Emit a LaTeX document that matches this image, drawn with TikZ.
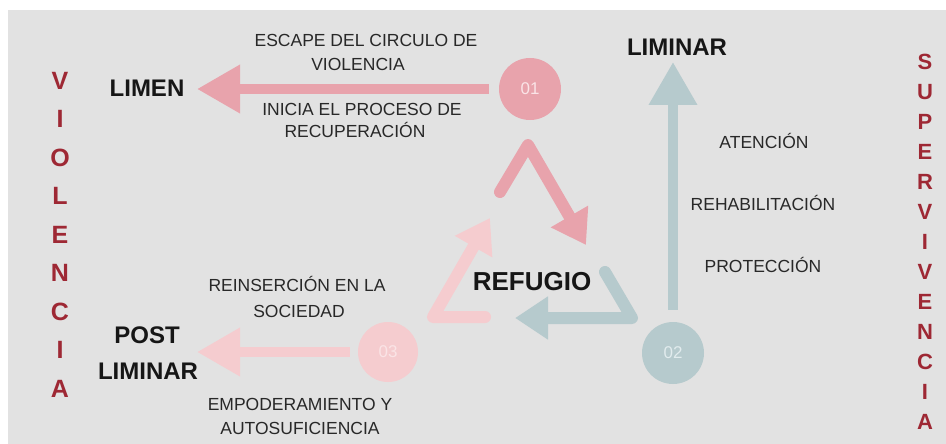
\documentclass[tikz,border=0pt]{standalone}
\usepackage{fontspec}
\setmainfont{Liberation Sans}
\usetikzlibrary{arrows.meta}
\definecolor{bgc}{RGB}{226,226,226}
\definecolor{pinkA}{RGB}{232,163,172}
\definecolor{pinkL}{RGB}{245,204,207}
\definecolor{tealA}{RGB}{182,202,205}
\definecolor{txtc}{RGB}{40,40,40}
\definecolor{boldc}{RGB}{22,22,22}
\definecolor{redc}{RGB}{158,40,52}
\begin{document}
\begin{tikzpicture}[x=1pt,y=-1pt,
  lbl/.style={font=\fontsize{17.5}{20}\selectfont, text=txtc, anchor=base, inner sep=0pt},
  big/.style={font=\bfseries\fontsize{24}{28}\selectfont, text=boldc, anchor=base, inner sep=0pt},
  vletter/.style={font=\bfseries\fontsize{25}{28}\selectfont, text=redc, anchor=base, inner sep=0pt},
  sletter/.style={font=\bfseries\fontsize{22}{26}\selectfont, text=redc, anchor=base, inner sep=0pt},
  dot/.style={circle, minimum size=62pt, inner sep=0pt, font=\fontsize{17}{19}\selectfont},
  bigarrow/.style={line width=10pt, -{Triangle[length=43pt,width=46pt]}},
  chev/.style={line width=12pt, line join=round, line cap=round, -{Triangle[length=33pt,width=41pt]}}
]
\useasboundingbox (0,0) rectangle (946,444);
\fill[white] (0,0) rectangle (946,444);
\fill[bgc] (8,10) rectangle (946,444);

% circles
\node[dot, fill=pinkA, text={rgb,255:red,250;green,228;blue,231}] (c1) at (530,89) {01};
\node[dot, fill=tealA, text={rgb,255:red,226;green,236;blue,238}] (c2) at (673,353) {02};
\node[dot, fill=pinkL, text={rgb,255:red,250;green,228;blue,230}, minimum size=60pt] (c3) at (388,352) {03};

% tips
\coordinate (t1) at (197,89);
\coordinate (t2) at (673,62);
\coordinate (t3) at (197,352);

% main arrows
\draw[bigarrow, pinkA] ([xshift=-10pt]c1.west) -- (t1);
\draw[bigarrow, tealA] ([yshift=12pt]c2.north) -- (t2);
\draw[bigarrow, pinkL] ([xshift=-8pt]c3.west) -- (t3);

% central cycle arrows
\coordinate (pa) at (500,192);
\coordinate (pb) at (528,145);
\coordinate (pc) at (586,245);
\draw[chev, pinkA] (pa) -- (pb) -- (pc);

\coordinate (ta) at (605,272);
\coordinate (tb) at (632,318);
\coordinate (tc) at (515,318);
\draw[chev, tealA] (ta) -- (tb) -- (tc);

\coordinate (la) at (485,317);
\coordinate (lb) at (433,317);
\coordinate (lc) at (490,218);
\draw[chev, pinkL] (la) -- (lb) -- (lc);

% bold labels
\node[big] (limen) at (147,96.6) {LIMEN};
\node[big] (liminar) at (677,55.6) {LIMINAR};
\node[big] (post1) at (147,343.6) {POST};
\node[big] (post2) at (148,379.6) {LIMINAR};
\node[big, font=\bfseries\fontsize{26}{30}\selectfont] (refugio) at (532,290) {REFUGIO};

% regular labels
\node[lbl] (e1) at (366,47) {ESCAPE DEL CIRCULO DE};
\node[lbl] (e2) at (358,71) {VIOLENCIA};
\node[lbl] (i1) at (362,115) {INICIA EL PROCESO DE};
\node[lbl] (i2) at (355,138) {RECUPERACIÓN};
\node[lbl] (a1) at (764,148) {ATENCIÓN};
\node[lbl] (a2) at (763,210) {REHABILITACIÓN};
\node[lbl] (a3) at (763,272) {PROTECCIÓN};
\node[lbl] (r1) at (297,291) {REINSERCIÓN EN LA};
\node[lbl] (r2) at (299,317) {SOCIEDAD};
\node[lbl] (m1) at (300,410) {EMPODERAMIENTO Y};
\node[lbl] (m2) at (300,434) {AUTOSUFICIENCIA};

% vertical words
\foreach \l [count=\i] in {V,I,O,L,E,N,C,I,A}
  \node[vletter] (vl\i) at (60,{89+38.5*(\i-1)}) {\l};
\foreach \l [count=\i] in {S,U,P,E,R,V,I,V,E,N,C,I,A}
  \node[sletter] (sl\i) at (925,{69.9+30*(\i-1)}) {\l};
\end{tikzpicture}
\end{document}
